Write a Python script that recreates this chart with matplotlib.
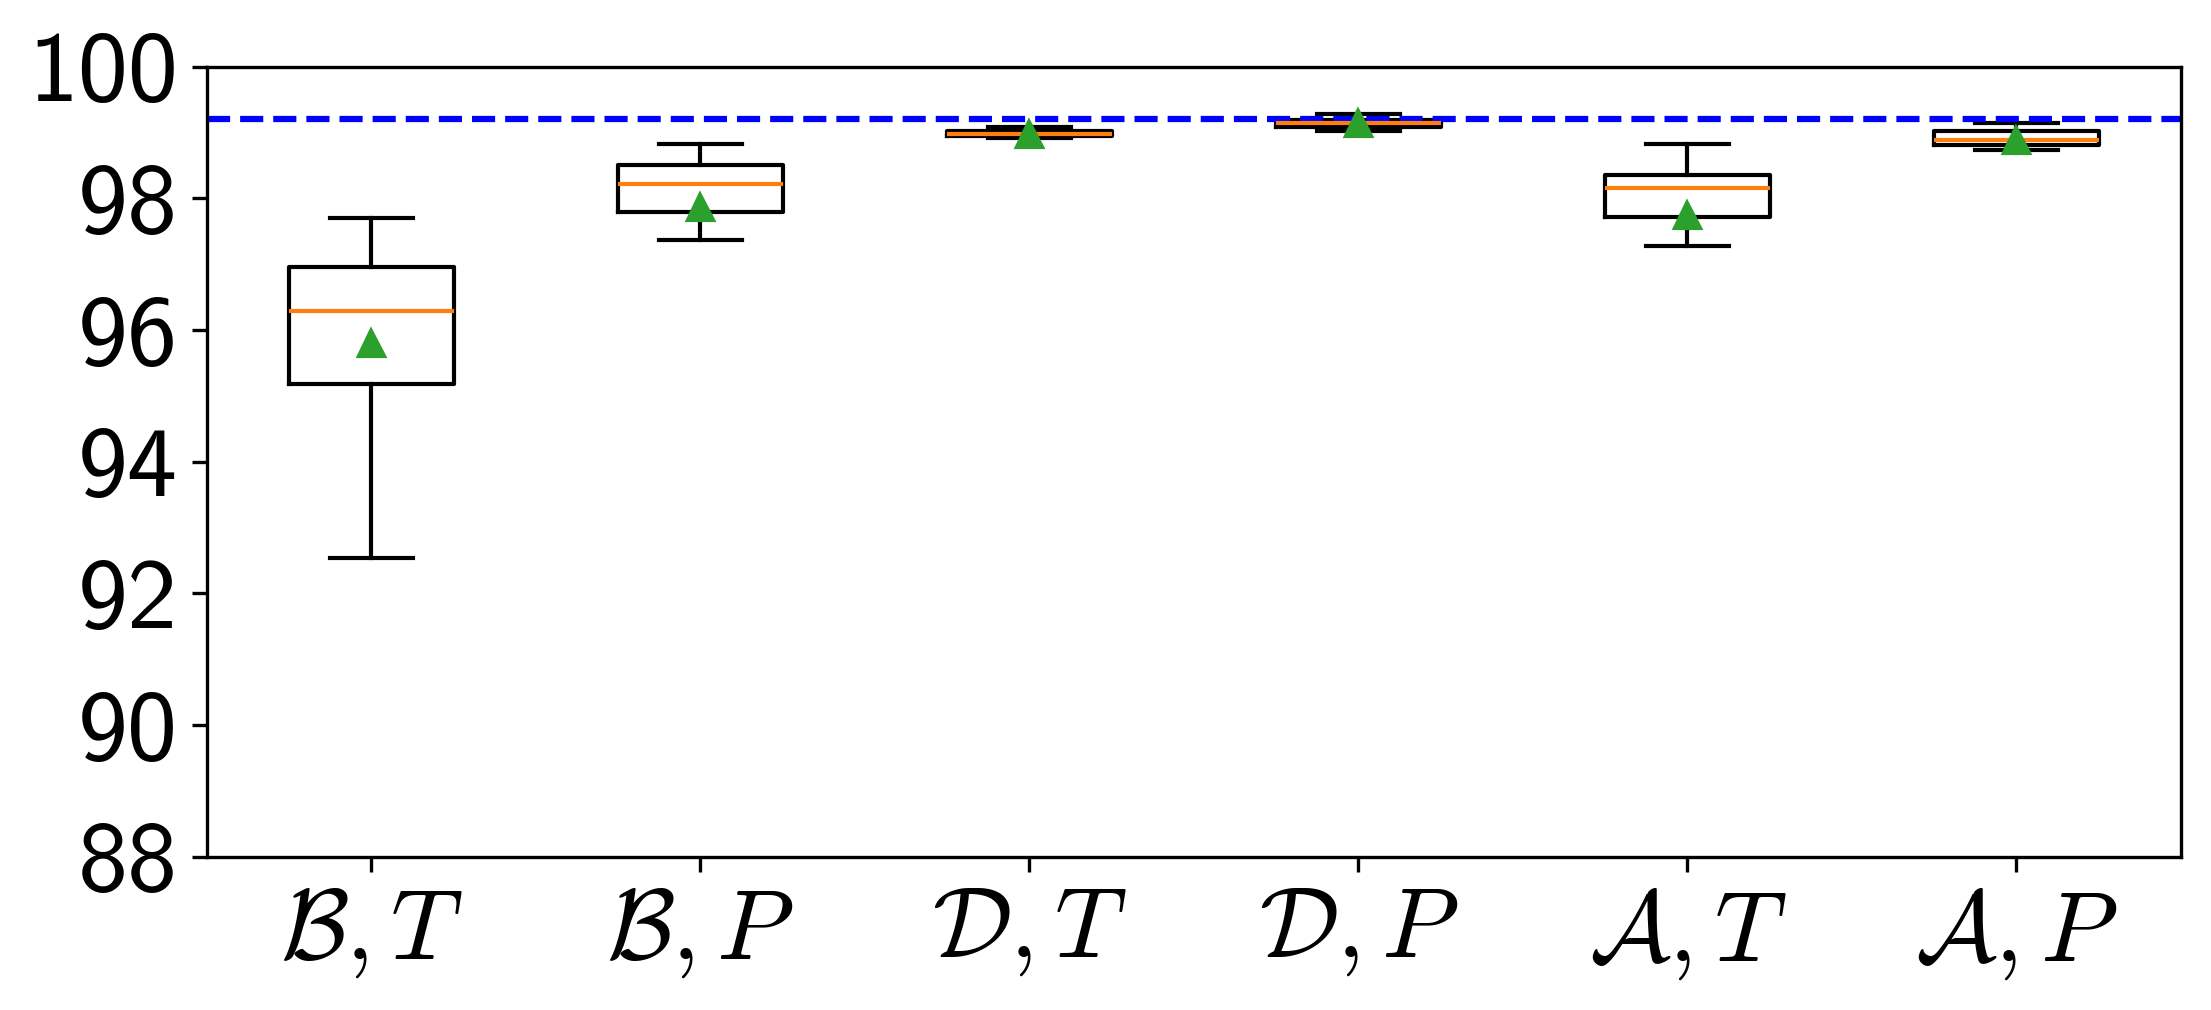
import matplotlib
matplotlib.use("Agg")
import matplotlib.pyplot as plt

categories = [r'$\mathcal{B},T$', r'$\mathcal{B},P$', r'$\mathcal{D},T$',
              r'$\mathcal{D},P$', r'$\mathcal{A},T$', r'$\mathcal{A},P$']
whislo = [92.54, 97.36, 98.92, 99.03, 97.28, 98.74]
q1     = [95.18, 97.79, 98.94, 99.09, 97.71, 98.81]
med    = [96.29, 98.22, 98.98, 99.15, 98.16, 98.89]
q3     = [96.96, 98.50, 99.02, 99.19, 98.36, 99.03]
whishi = [97.70, 98.83, 99.09, 99.28, 98.83, 99.15]
means  = [95.81, 97.87, 98.98, 99.15, 97.74, 98.88]
reference = 99.2
yticks = [88, 90, 92, 94, 96, 98, 100]

plt.rcParams['font.family'] = 'cmss10'
plt.rcParams['mathtext.fontset'] = 'cm'
plt.rcParams['axes.formatter.use_mathtext'] = True

fig = plt.figure(figsize=(2211/300, 1010/300), dpi=300)
ax = fig.add_axes([0.0936, 0.1517, 0.8928, 0.7823])

stats = []
for i in range(len(categories)):
    stats.append(dict(label=categories[i], whislo=whislo[i], q1=q1[i], med=med[i],
                      q3=q3[i], whishi=whishi[i], mean=means[i], fliers=[]))

ax.bxp(stats, showmeans=True, showfliers=False)
ax.axhline(reference, color='blue', linestyle='--', linewidth=1.5)
ax.set_ylim(88, 100)
ax.set_yticks(yticks)
ax.set_yticklabels([str(t) for t in yticks])
ax.tick_params(axis='both', labelsize=24)

fig.savefig('out.png', dpi=300)
